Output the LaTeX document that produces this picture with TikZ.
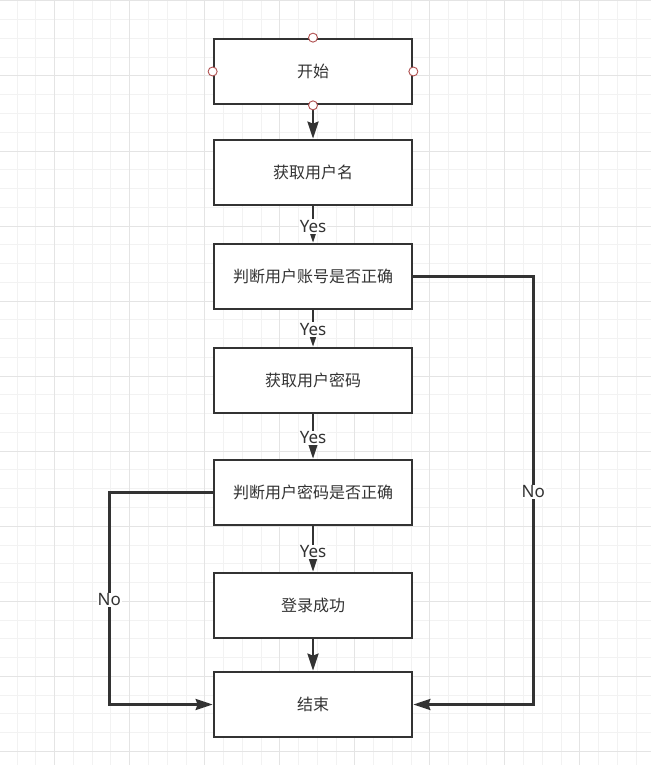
\documentclass[tikz,border=0pt]{standalone}
\usepackage{fontspec}
\setmainfont{Noto Sans}
\newfontfamily\cjk{Noto Sans CJK SC}
\usetikzlibrary{arrows.meta,calc}
\definecolor{ink}{HTML}{333333}
\definecolor{gridminor}{HTML}{F2F2F2}
\definecolor{gridmajor}{HTML}{E4E4E4}
\definecolor{cptred}{HTML}{B05050}
\tikzset{
  x=1pt, y=-1pt,
  stepbox/.style={draw=ink, line width=2.7pt, fill=white, minimum width=198pt, minimum height=65pt,
    inner sep=0pt, font=\cjk\fontsize{16}{18}\selectfont, text=ink},
  arr/.style={draw=ink, line width=2.7pt, -{Stealth[length=17pt,width=11pt,inset=2pt]}},
  lbl/.style={fill=white, inner sep=1pt, font=\fontsize{17}{19}\selectfont, text=ink},
  cpt/.style={circle, draw=cptred, line width=0.9pt, fill=white, minimum size=9pt, inner sep=0pt},
}
\begin{document}
\begin{tikzpicture}
\path[use as bounding box, fill=white] (0,0) rectangle (651,765);
% grid
\foreach \k in {-3,...,31}{
  \draw[gridminor, line width=1pt] ({54.7+\k*18.76},0) -- ({54.7+\k*18.76},765);
}
\foreach \k in {-4,...,36}{
  \draw[gridminor, line width=1pt] (0,{76+\k*18.76}) -- (651,{76+\k*18.76});
}
\foreach \k in {0,4,...,28}{
  \draw[gridmajor, line width=1pt] ({54.7+\k*18.76},0) -- ({54.7+\k*18.76},765);
}
\foreach \k in {-4,0,...,36}{
  \draw[gridmajor, line width=1pt] (0,{76+\k*18.76}) -- (651,{76+\k*18.76});
}
% boxes
\node[stepbox] (b1) at (313,71.5) {开始};
\node[stepbox] (b2) at (313,172.5) {获取用户名};
\node[stepbox] (b3) at (313,276.5) {判断用户账号是否正确};
\node[stepbox] (b4) at (313,380.5) {获取用户密码};
\node[stepbox] (b5) at (313,492.5) {判断用户密码是否正确};
\node[stepbox] (b6) at (313,605.5) {登录成功};
\node[stepbox] (b7) at (313,704.5) {结束};
% connectors
\draw[arr] (b1.south) -- (b2.north);
\draw[arr] (b2.south) -- node[lbl, pos=0.555]{Yes} (b3.north);
\draw[arr] (b3.south) -- node[lbl, pos=0.527]{Yes} (b4.north);
\draw[arr] (b4.south) -- node[lbl, pos=0.534]{Yes} (b5.north);
\draw[arr] (b5.south) -- node[lbl, pos=0.56]{Yes} (b6.north);
\draw[arr] (b6.south) -- (b7.north);
\coordinate (cr) at (533.3,0);
\coordinate (cl) at (109.3,0);
\draw[arr] (b3.east) -- (b3.east -| cr) -- node[lbl, pos=0.503]{No} (b7.east -| cr) -- (b7.east);
\draw[arr] (b5.west) -- (b5.west -| cl) -- node[lbl, pos=0.507]{No} (b7.west -| cl) -- (b7.west);
% connection points of the start box
\node[cpt] (cpn) at (b1.north) {};
\node[cpt] (cps) at (b1.south) {};
\node[cpt] (cpw) at (b1.west) {};
\node[cpt] (cpe) at (b1.east) {};
\end{tikzpicture}
\end{document}
